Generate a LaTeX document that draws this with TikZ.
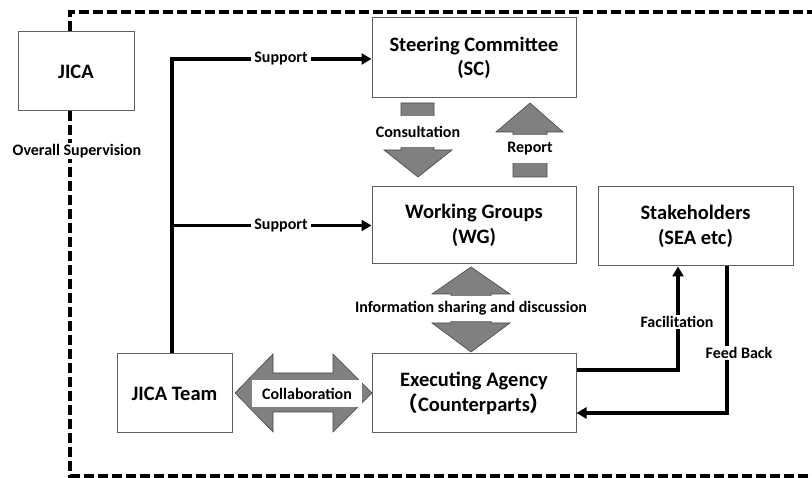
\documentclass[tikz,border=0pt]{standalone}
\usepackage{fontspec}
\setmainfont{Carlito}
\newfontfamily\cjkfont{Noto Sans CJK JP}
\usetikzlibrary{arrows.meta}
\definecolor{boxgray}{RGB}{95,95,95}
\definecolor{arrowfill}{RGB}{128,128,128}
\definecolor{arrowedge}{RGB}{70,70,70}
\begin{document}
\begin{tikzpicture}[x=1pt,y=-1pt,
  box/.style={draw=boxgray, line width=1pt, fill=white, inner sep=0pt, align=center,
    font=\bfseries\fontsize{20.5}{24.5}\selectfont},
  lbl/.style={fill=white, inner xsep=3pt, inner ysep=1pt, font=\bfseries\fontsize{16}{18}\selectfont},
  conn/.style={line width=3.3pt, -{Triangle[length=10pt,width=11pt]}},
  frame/.style={line width=3.3pt, dash pattern=on 10pt off 4pt},
  blockarrow/.style={fill=arrowfill, draw=arrowedge, line width=0.6pt, line join=miter}]
\useasboundingbox (0,0) rectangle (812,478);

% boxes
\node[box, minimum width=116pt, minimum height=79pt] (jica) at (76,71.5) {JICA};
\node[box, minimum width=204pt, minimum height=80pt] (sc) at (474,58) {Steering Committee\\(SC)};
\node[box, minimum width=204pt, minimum height=77pt] (wg) at (474,225.5) {Working Groups\\(WG)};
\node[box, minimum width=195pt, minimum height=79pt] (sh) at (695.5,226.5) {Stakeholders\\(SEA etc)};
\node[box, minimum width=204pt, minimum height=79pt] (ea) at (474,393.5) {Executing Agency\\{\cjkfont （}Counterparts{\cjkfont ）}};
\node[box, minimum width=115pt, minimum height=79pt] (jt) at (174.5,393.5) {JICA Team};

% dashed frame
\coordinate (ftl) at (70,12);
\coordinate (ftr) at (812,12);
\coordinate (fbl) at (70,476);
\coordinate (fbr) at (812,476);
\draw[frame] (jica.north -| ftl) -- (ftl) -- (ftr);
\draw[frame] (jica.south -| ftl) -- (fbl) -- (fbr);
\node[lbl] (ovs) at (77,151) {Overall Supervision};

% support lines
\coordinate (s1) at (172,59);
\draw[conn] (jt.north -| s1) -- (s1) -- (sc.west |- s1);
\draw[conn] (s1 |- wg.west) -- (wg.west);
\node[lbl] (sup1) at (281,59) {Support};
\node[lbl] (sup2) at (281,225.5) {Support};

% block arrows
\draw[blockarrow] (401,103) -- (434,103) -- (434,150) -- (452,150) -- (418,177) -- (384,150) -- (401,150) -- cycle;
\node[lbl, minimum height=31pt] (cons) at (418,131.5) {Consultation};

\draw[blockarrow] (530,103) -- (563,132) -- (547,132) -- (547,177) -- (513,177) -- (513,132) -- (496,132) -- cycle;
\node[lbl, minimum height=28pt] (rep) at (530,149) {Report};

\draw[blockarrow] (471,267) -- (510,294) -- (491,294) -- (491,323) -- (510,323) -- (471,352) -- (432,323) -- (451,323) -- (451,294) -- (432,294) -- cycle;
\node[lbl, minimum height=25pt] (info) at (471,308.5) {Information sharing and discussion};

\draw[blockarrow] (235,393) -- (273,354) -- (273,373) -- (333,373) -- (333,354) -- (372,393) -- (333,432) -- (333,412) -- (273,412) -- (273,432) -- cycle;
\node[lbl, minimum width=110pt, minimum height=27pt] (collab) at (307,393.5) {Collaboration};

% facilitation / feedback
\coordinate (fa) at (678,370);
\coordinate (fb) at (727,413);
\draw[conn] (ea.east |- fa) -- (fa) -- (sh.south -| fa);
\node[lbl] (fac) at (677,322) {Facilitation};
\draw[conn] (sh.south -| fb) -- (fb) -- (ea.east |- fb);
\node[lbl] (feed) at (739,353) {Feed Back};
\end{tikzpicture}
\end{document}
